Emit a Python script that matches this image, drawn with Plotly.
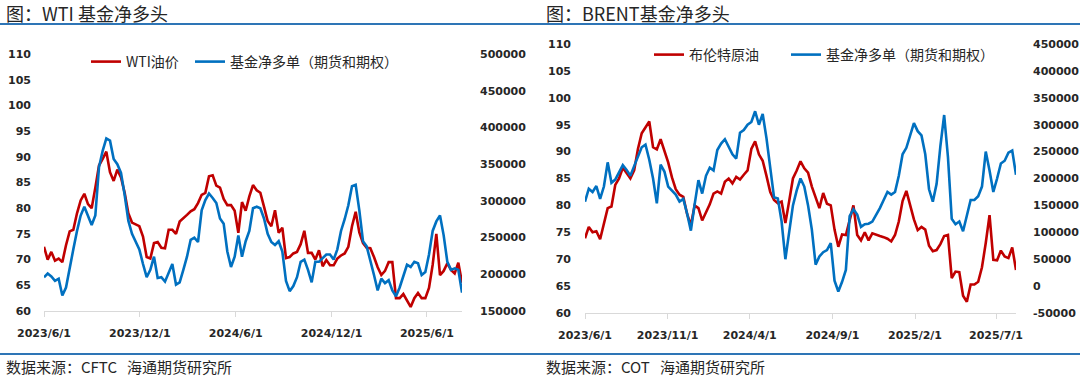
import pandas as pd
import plotly.graph_objects as go

# ---------------- data ----------------
start_date = "2023-06-01"

wti_price = [72.5, 70, 71.5, 69.8, 70.2, 69.5, 72.8, 75.5, 75.8, 79, 81.5, 82.8, 80.8, 80, 84, 88.3, 89.6, 91, 87, 85.3,
             87.5, 86, 83, 79, 77.2, 76.8, 76.5, 74.5, 70.5, 70.2, 73.2, 73.4, 72.3, 72.2, 75.8, 75.8, 75, 77.4, 78, 78.7,
             79.4, 79.8, 81, 82.6, 83, 86.2, 86.4, 84.4, 84, 81.8, 80.6, 80.6, 79.5, 75.2, 81.2, 79.5, 82.3, 84.5, 83.5, 83,
             80.3, 77.5, 76.5, 79.6, 75.2, 76.2, 70.3, 70.5, 71.2, 71.5, 73, 75.6, 71.3, 71.3, 70, 71.8, 68.7, 69.9, 68.9, 68.9,
             70.2, 70.8, 71.2, 72.5, 76.5, 79.3, 75.3, 73.2, 72.3, 72.2, 70.5, 68.5, 67, 67.8, 69.5, 69.5, 62.5, 62.5, 63.3, 62,
             60.8, 62.5, 63.5, 62.5, 62.5, 64.5, 69, 75, 67, 67.8, 69.3, 68, 67.3, 69.4, 65.5]

wti_net_long = [196000, 201000, 197000, 191000, 194000, 171000, 182000, 206000, 234000, 259000, 280000, 292000, 280000,
                267000, 280000, 346000, 368000, 385000, 382000, 357000, 350000, 338000, 308000, 273000, 255000, 244000,
                234000, 214000, 196000, 206000, 224000, 195000, 196000, 190000, 203000, 214000, 186000, 189000, 206000,
                224000, 247000, 250000, 244000, 287000, 301000, 310000, 304000, 297000, 276000, 269000, 231000, 210000,
                224000, 253000, 224000, 245000, 259000, 290000, 292000, 290000, 276000, 255000, 244000, 240000, 245000,
                231000, 191000, 177000, 184000, 196000, 217000, 220000, 206000, 189000, 217000, 217000, 222000, 227000,
                227000, 220000, 234000, 259000, 275000, 294000, 320000, 322000, 287000, 245000, 238000, 220000, 199000,
                178000, 194000, 188000, 192000, 178000, 170000, 182000, 199000, 213000, 210000, 217000, 215000, 199000,
                203000, 227000, 259000, 272000, 280000, 253000, 217000, 206000, 208000, 206000, 175000]

brent_price = [73.9, 76, 75, 75.2, 73.7, 76.5, 79.5, 79.8, 83.8, 85, 87, 86, 85, 86.5, 90.5, 93.4, 94.6, 95.6, 90.8, 90.4,
               92.3, 90.2, 88, 85.2, 83, 82, 81.6, 78.4, 76.3, 80, 79.5, 77.2, 78.7, 80.2, 82.2, 82.6, 82.2, 84.4, 85, 84.1,
               85.3, 84.8, 85.7, 86.5, 90.5, 91.9, 89.5, 88.3, 85.5, 82.5, 81, 80.4, 80.7, 76.7, 80.8, 85, 86.5, 88.2, 86.9,
               86.1, 83.5, 81.5, 79.5, 82.3, 80.3, 80, 75.5, 72.3, 74.6, 74.5, 77, 80, 74.5, 73.5, 75, 73.5, 74.8, 74.5, 74.3,
               74.1, 73.8, 73.3, 74.5, 77, 80.8, 82.7, 80.1, 77.4, 75.4, 76, 75.5, 72.5, 71.5, 71.7, 72.8, 74.3, 74.5, 66.5,
               67.7, 67.6, 63.2, 62.1, 65.3, 65.3, 65.8, 68.5, 73, 78.2, 69.9, 69.8, 71.6, 70.5, 70.2, 72.2, 68]

brent_net_long = [157000, 181000, 175000, 186000, 162000, 185000, 230000, 192000, 198000, 211000, 225000, 216000, 205000,
                  223000, 240000, 258000, 263000, 235000, 200000, 154000, 226000, 213000, 185000, 178000, 170000, 157000,
                  162000, 135000, 103000, 152000, 197000, 172000, 205000, 220000, 215000, 253000, 265000, 273000, 260000,
                  245000, 237000, 285000, 290000, 300000, 305000, 325000, 300000, 320000, 275000, 220000, 165000, 163000,
                  120000, 50000, 100000, 150000, 178000, 200000, 185000, 150000, 105000, 40000, 55000, 63000, 67000,
                  80000, 10000, -10000, 8000, 30000, 130000, 143000, 133000, 110000, 115000, 116000, 120000, 132000,
                  145000, 160000, 175000, 170000, 175000, 205000, 245000, 257000, 280000, 303000, 288000, 280000,
                  245000, 180000, 157000, 190000, 260000, 318000, 240000, 125000, 115000, 120000, 102000, 130000,
                  160000, 160000, 167000, 185000, 250000, 215000, 175000, 200000, 228000, 233000, 248000, 252000, 207000]

wti_xtick_dates = ["2023-06-01", "2023-12-01", "2024-06-01", "2024-12-01", "2025-06-01"]
wti_xtick_labels = ["2023/6/1", "2023/12/1", "2024/6/1", "2024/12/1", "2025/6/1"]
brent_xtick_dates = ["2023-06-01", "2023-11-01", "2024-04-01", "2024-09-01", "2025-02-01", "2025-07-01"]
brent_xtick_labels = ["2023/6/1", "2023/11/1", "2024/4/1", "2024/9/1", "2025/2/1", "2025/7/1"]

price_ticks = [60, 65, 70, 75, 80, 85, 90, 95, 100, 105, 110]
wti_right_ticks = [150000, 200000, 250000, 300000, 350000, 400000, 450000, 500000]
brent_right_ticks = [-50000, 0, 50000, 100000, 150000, 200000, 250000, 300000, 350000, 400000, 450000]

dates = pd.date_range(start_date, periods=len(wti_price), freq="7D")

# ---------------- styling ----------------
W, H = 1080, 380
RED = "#C00000"
BLUE = "#0070C0"
RULE = "#2E75B6"
TXT = "#262626"
TICKFONT = dict(family="DejaVu Sans", size=11, color=TXT, weight="bold")
CJK = "Noto Sans CJK SC"


def px(x):
    return x / W


def py(y):
    return 1 - y / H


fig = go.Figure()

fig.add_trace(go.Scatter(x=dates, y=wti_price, name="WTI油价", mode="lines",
                         line=dict(color=RED, width=2.6), xaxis="x", yaxis="y", legend="legend"))
fig.add_trace(go.Scatter(x=dates, y=wti_net_long, name="基金净多单（期货和期权）", mode="lines",
                         line=dict(color=BLUE, width=2.6), xaxis="x", yaxis="y2", legend="legend2"))
fig.add_trace(go.Scatter(x=dates, y=brent_price, name="布伦特原油", mode="lines",
                         line=dict(color=RED, width=2.6), xaxis="x2", yaxis="y3", legend="legend3"))
fig.add_trace(go.Scatter(x=dates, y=brent_net_long, name="基金净多单（期货和期权）", mode="lines",
                         line=dict(color=BLUE, width=2.6), xaxis="x2", yaxis="y4", legend="legend4"))

xrange = [dates[0], dates[-1]]

xcommon = dict(range=xrange, type="date", showgrid=False, zeroline=False, showline=True, automargin=False,
               linecolor="#D9D9D9", linewidth=1, ticks="outside", tickcolor="#D9D9D9", ticklen=5,
               ticklabelstandoff=7, tickfont=TICKFONT, fixedrange=True)
ycommon = dict(showgrid=False, zeroline=False, showline=False, ticks="", tickfont=TICKFONT, fixedrange=True,
               automargin=False)


def legend_at(x, y):
    return dict(orientation="h", x=px(x), y=py(y), xanchor="left", yanchor="middle",
                font=dict(family=CJK, size=14, color=TXT), bgcolor="rgba(0,0,0,0)", itemwidth=30)


fig.update_layout(
    template="none",
    width=W, height=H, autosize=False,
    margin=dict(l=0, r=0, t=0, b=0, pad=0, autoexpand=False),
    paper_bgcolor="white", plot_bgcolor="white",
    font=dict(family=CJK, color=TXT),
    xaxis=dict(domain=[px(44), px(462)], anchor="y", tickvals=wti_xtick_dates, ticktext=wti_xtick_labels, **xcommon),
    yaxis=dict(domain=[py(311), py(54)], anchor="x", range=[60, 110], tickvals=price_ticks,
               ticktext=[str(v) for v in price_ticks], ticklabelstandoff=12, **ycommon),
    yaxis2=dict(overlaying="y", side="right", anchor="x", range=[150000, 500000], tickvals=wti_right_ticks,
                ticktext=[str(v) for v in wti_right_ticks], ticklabelstandoff=17, **ycommon),
    xaxis2=dict(domain=[px(585), px(1016)], anchor="y3", tickvals=brent_xtick_dates, ticktext=brent_xtick_labels,
                **xcommon),
    yaxis3=dict(domain=[py(313), py(44)], anchor="x2", range=[60, 110], tickvals=price_ticks,
                ticktext=[str(v) for v in price_ticks], ticklabelstandoff=13, **ycommon),
    yaxis4=dict(overlaying="y3", side="right", anchor="x2", range=[-50000, 450000], tickvals=brent_right_ticks,
                ticktext=[str(v) for v in brent_right_ticks], ticklabelstandoff=16, **ycommon),
    legend=legend_at(86, 62),
    legend2=legend_at(190, 62),
    legend3=legend_at(649, 55),
    legend4=legend_at(786, 55),
    showlegend=True,
)

annotations = [
    dict(text="图：WTI 基金净多头", x=px(4), y=py(13), xanchor="left", yanchor="middle"),
    dict(text="图：BRENT基金净多头", x=px(544), y=py(13), xanchor="left", yanchor="middle"),
]
for a in annotations:
    a.update(xref="paper", yref="paper", showarrow=False, font=dict(family=CJK, size=18, color=TXT))
sources = [
    dict(text="数据来源：CFTC   海通期货研究所", x=px(4), y=py(366), xanchor="left", yanchor="middle"),
    dict(text="数据来源：COT   海通期货研究所", x=px(544), y=py(366), xanchor="left", yanchor="middle"),
]
for a in sources:
    a.update(xref="paper", yref="paper", showarrow=False, font=dict(family=CJK, size=15, color=TXT))
fig.update_layout(annotations=annotations + sources)

fig.update_layout(shapes=[
    dict(type="line", xref="paper", yref="paper", x0=0, x1=1, y0=py(24), y1=py(24),
         line=dict(color=RULE, width=2)),
    dict(type="line", xref="paper", yref="paper", x0=0, x1=1, y0=py(354), y1=py(354),
         line=dict(color=RULE, width=2)),
])

fig.write_html("out.html", config={"displayModeBar": False},
               post_script="document.body.style.margin='0px';")
